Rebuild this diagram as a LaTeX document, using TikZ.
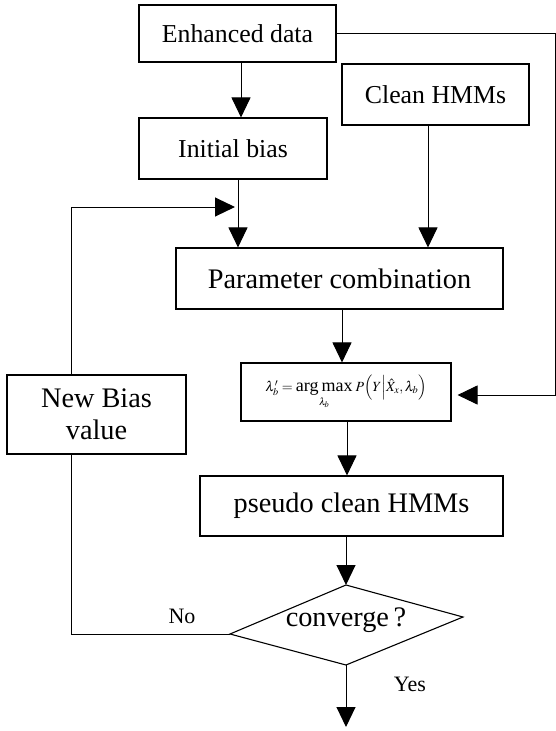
\documentclass[tikz,border=0pt]{standalone}
\usepackage{amsmath}
\usepackage{mathptmx}
\usepackage{fontspec}
\setmainfont{Liberation Serif}
\usetikzlibrary{arrows.meta}
\begin{document}
\begin{tikzpicture}[x=1pt,y=-1pt,
  box/.style={draw,line width=1.1pt,inner sep=0pt,align=center},
  arr/.style={line width=1pt,-{Triangle[width=19pt,length=20pt]}},
  conn/.style={line width=1pt},
  bigtxt/.style={font=\fontsize{28.3}{32}\selectfont},
  midtxt/.style={font=\fontsize{25.8}{30}\selectfont},
  lbl/.style={font=\fontsize{22}{26}\selectfont,inner sep=0pt}]
\useasboundingbox (0,0) rectangle (556,731);
\node[box,midtxt,minimum width=197pt,minimum height=57pt] (ed) at (237.5,33.5) {Enhanced data};
\node[box,midtxt,minimum width=187pt,minimum height=61pt] (ch) at (435.5,94.5) {Clean HMMs};
\node[box,midtxt,minimum width=188pt,minimum height=61pt] (ib) at (233,148.5) {Initial bias};
\node[box,bigtxt,minimum width=327pt,minimum height=61pt] (pc) at (339.5,278.5) {Parameter combination};
\node[box,minimum width=210pt,minimum height=58pt,font=\fontsize{14}{16}\selectfont] (fm) at (346,392)
  {$\lambda_b' = \underset{\lambda_b}{\text{\fontsize{18}{21}\selectfont arg\,max}}\;P\Bigl(Y\Big|\hat{X}_x,\lambda_b\Bigr)$};
\node[box,bigtxt,minimum width=179pt,minimum height=79pt] (nb) at (96.5,414.5) {New Bias\\value};
\node[box,bigtxt,minimum width=303pt,minimum height=60pt] (ps) at (351.5,506) {pseudo clean HMMs};
% diamond
\coordinate (dt) at (346,585);
\coordinate (dr) at (463,617);
\coordinate (db) at (346,665);
\coordinate (dl) at (230,634);
\draw[line width=1.1pt] (dt) -- (dr) -- (db) -- (dl) -- cycle;
\node[bigtxt,inner sep=0pt] (cv) at (346,620) {converge\,?};
\node[lbl] (no) at (182,616) {No};
\node[lbl] (yes) at (410,684) {Yes};
\coordinate (fbtip) at (235,207);
\coordinate (rtop) at (555.5,33);
\coordinate (rbot) at (555.5,395);
\coordinate (endpt) at (346,727);
% connectors
\draw[arr] ([xshift=3.5pt]ed.south) -- ([xshift=8pt]ib.north);
\draw[arr] ([xshift=5pt]ib.south) -- ([xshift=5pt]ib.south |- pc.north);
\draw[arr] ([xshift=-7.5pt]ch.south) -- ([xshift=-7.5pt]ch.south |- pc.north);
\draw[arr] ([xshift=2.5pt]pc.south) -- ([xshift=2.5pt]pc.south |- fm.north);
\draw[arr] ([xshift=1pt]fm.south) -- ([xshift=1pt]fm.south |- ps.north);
\draw[arr] ([xshift=-5.5pt]ps.south) -- (dt);
\draw[arr] (db) -- (endpt);
\draw[arr] ([xshift=-25.5pt]nb.north) |- (fbtip);
\draw[conn] (dl) -| ([xshift=-25.5pt]nb.south);
\draw[conn] (ed.east |- rtop) -- (rtop) -- (rbot);
\draw[arr,shorten >=6pt] (rbot) -- (fm.east |- rbot);
\end{tikzpicture}
\end{document}
